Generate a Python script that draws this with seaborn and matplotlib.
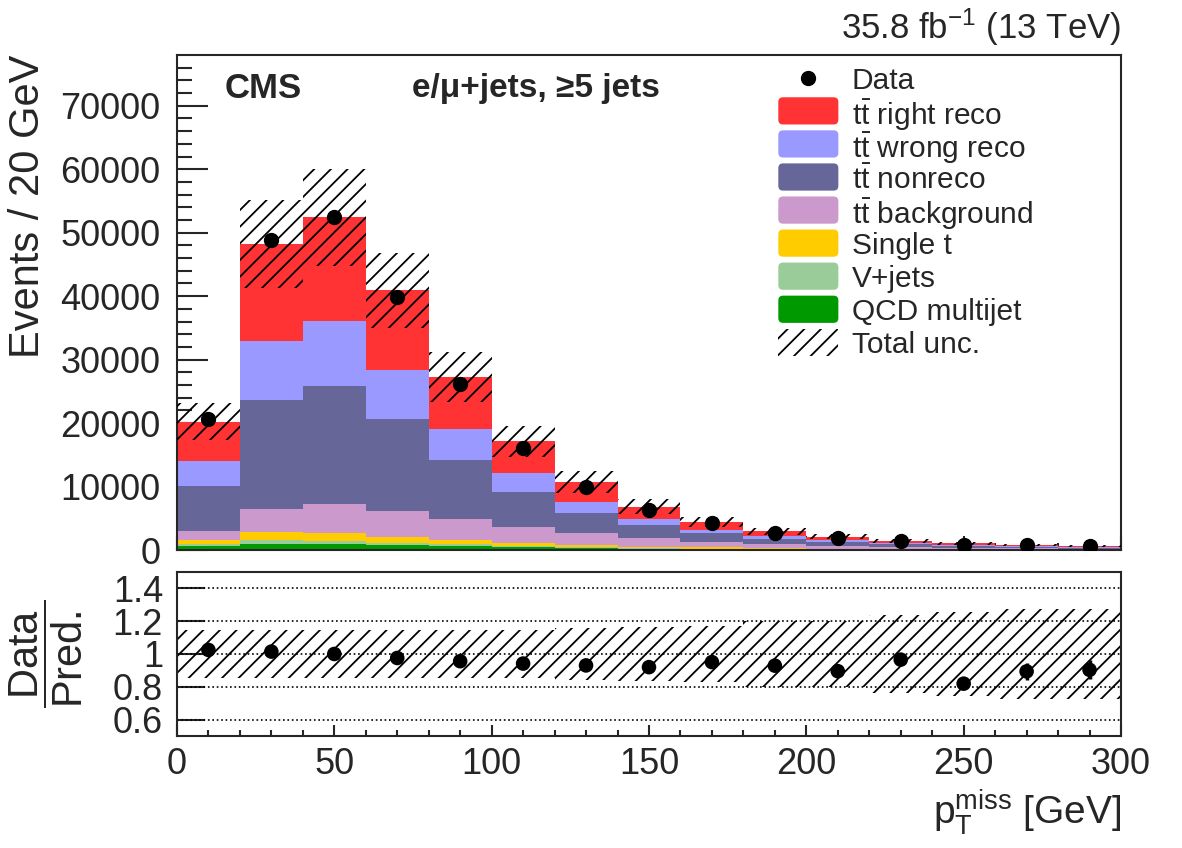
import numpy as np
import pandas as pd
import matplotlib
matplotlib.use("Agg")
import matplotlib.pyplot as plt
from matplotlib.patches import FancyBboxPatch, Rectangle
import seaborn as sns

sns.set_style("ticks")
plt.rcParams['font.family'] = ['Liberation Sans', 'DejaVu Sans']
plt.rcParams['mathtext.fontset'] = 'custom'
plt.rcParams['mathtext.rm'] = 'Liberation Sans'
plt.rcParams['mathtext.it'] = 'Liberation Sans:italic'
plt.rcParams['mathtext.bf'] = 'Liberation Sans:bold'
plt.rcParams['hatch.linewidth'] = 1.3

# binning (20 GeV bins, 0-300 GeV)
edges = np.arange(0, 320, 20)
centers = edges[:-1] + 10

# stacked predictions, per process (events per bin)
tt_right = [6200, 15200, 16300, 12500, 8200, 5000, 3200, 2000, 1250, 800, 550, 380, 280, 210, 170]
tt_wrong = [3900, 9300, 10200, 7700, 4900, 2900, 1700, 900, 500, 350, 250, 170, 120, 90, 70]
tt_nonreco = [7100, 17300, 18700, 14500, 9350, 5500, 3200, 2100, 1400, 900, 650, 450, 320, 250, 190]
tt_bkg = [1500, 3500, 4550, 4150, 3300, 2600, 1850, 1300, 900, 620, 450, 300, 220, 170, 125]
single_t = [500, 1250, 1250, 900, 650, 450, 350, 250, 200, 140, 100, 80, 55, 40, 35]
vjets = [300, 650, 450, 300, 250, 200, 150, 100, 70, 50, 40, 30, 25, 20, 15]
qcd = [700, 1000, 950, 850, 650, 450, 300, 200, 130, 90, 60, 40, 30, 20, 15]

# data and its uncertainty
data = [20700, 48900, 52400, 39900, 26100, 16100, 10000, 6300, 4230, 2740, 1880, 1400, 860, 715, 560]
data_err = [150, 230, 240, 210, 170, 130, 100, 80, 65, 55, 45, 38, 35, 40, 36]

# relative total uncertainty on the prediction
rel_unc = [0.145, 0.145, 0.145, 0.145, 0.145, 0.145, 0.16, 0.165, 0.17, 0.2, 0.2, 0.24, 0.255, 0.275, 0.275]

tt = r"t$\bar{\mathrm{t}}$"
labels = [tt + " right reco", tt + " wrong reco", tt + " nonreco",
          tt + " background", "Single t", "V+jets", "QCD multijet"]
colors = ["#ff3333", "#9999ff", "#666699", "#cc99cc", "#ffcc00", "#99cc99", "#009900"]
series = [tt_right, tt_wrong, tt_nonreco, tt_bkg, single_t, vjets, qcd]

rows = []
for lab, vals in zip(labels, series):
    for c, v in zip(centers, vals):
        rows.append({"met": c, "events": v, "process": lab})
df = pd.DataFrame(rows)

pred = np.sum(np.array(series), axis=0)
data = np.array(data)
data_err = np.array(data_err)
rel_unc = np.array(rel_unc)

fig = plt.figure(figsize=(11.82, 8.48), dpi=100)
ax = fig.add_axes([0.1497, 0.3514, 0.7987, 0.5837])
rax = fig.add_axes([0.1497, 0.1321, 0.7987, 0.1934])

sns.histplot(data=df, x="met", weights="events", hue="process", hue_order=labels,
             multiple="stack", binwidth=20, binrange=(0, 300), element="step", fill=True,
             palette=colors, alpha=1, linewidth=0, legend=False, ax=ax)

# total uncertainty band
lo = pred * (1 - rel_unc)
hi = pred * (1 + rel_unc)
ax.fill_between(edges, np.append(lo, lo[-1]), np.append(hi, hi[-1]), step="post",
                facecolor="none", edgecolor="black", hatch="//", linewidth=0, zorder=3)

ax.errorbar(centers, data, yerr=data_err, fmt="o", color="black", ms=10, elinewidth=2,
            capsize=0, zorder=5)

ax.set_xlim(0, 300)
ax.set_ylim(0, 78000)
ax.set_xlabel("")
ax.set_ylabel("Events / 20 GeV", fontsize=30, loc="top")
ax.yaxis.set_label_coords(-0.137, 1.0)
ax.set_yticks(np.arange(0, 80000, 10000))
ax.set_yticks(np.arange(0, 78000, 2000), minor=True)
ax.set_xticks(np.arange(0, 301, 50))
ax.set_xticks(np.arange(0, 301, 10), minor=True)
ax.set_xticklabels([])
ax.tick_params(axis="y", which="major", direction="in", length=22, width=1.5, labelsize=26, pad=12)
ax.tick_params(axis="y", which="minor", direction="in", length=11, width=1.5)
ax.tick_params(axis="x", which="major", direction="in", length=10, width=1.5)
ax.tick_params(axis="x", which="minor", direction="in", length=5, width=1.5)
for sp in ax.spines.values():
    sp.set_linewidth(1.5)

ax.text(0.051, 0.933, "CMS", transform=ax.transAxes, fontsize=25, fontweight="bold", va="center")
ax.text(0.249, 0.933, "e/μ+jets, ≥5 jets", transform=ax.transAxes, fontsize=24,
        fontweight="bold", va="center")
ax.text(1.0, 1.015, "35.8 fb$^{-1}$ (13 TeV)", transform=ax.transAxes, fontsize=25,
        ha="right", va="bottom")

# legend, drawn row by row so that the rows keep an even pitch
leg_x, leg_w, leg_h = 0.637, 0.0636, 0.055
text_x = 0.715
row0, pitch = 0.954, 0.0668
entries = ["Data"] + labels + ["Total unc."]
for i, lab in enumerate(entries):
    yc = row0 - i * pitch
    if i == 0:
        ax.plot([leg_x + leg_w / 2], [yc], "o", color="black", ms=10, transform=ax.transAxes, clip_on=False)
    elif i <= len(colors):
        ax.add_patch(FancyBboxPatch((leg_x, yc - leg_h / 2), leg_w, leg_h,
                                    boxstyle="round,pad=0,rounding_size=0.005", mutation_aspect=1.9,
                                    facecolor=colors[i - 1], edgecolor="none", transform=ax.transAxes, zorder=6))
    else:
        ax.add_patch(Rectangle((leg_x, yc - leg_h / 2), leg_w, leg_h, facecolor="white", edgecolor="black",
                               hatch="//", linewidth=0, transform=ax.transAxes, zorder=6))
    ax.text(text_x, yc, lab, transform=ax.transAxes, fontsize=21.5, va="center_baseline", zorder=7)

# ratio panel
ratio = data / pred
ratio_err = data_err / pred
rax.fill_between(edges, np.append(1 - rel_unc, 1 - rel_unc[-1]), np.append(1 + rel_unc, 1 + rel_unc[-1]),
                 step="post", facecolor="none", edgecolor="black", hatch="//", linewidth=0)
for yl in [0.6, 0.8, 1.0, 1.2, 1.4]:
    rax.axhline(yl, color="black", ls=":", lw=1.2)
sns.scatterplot(x=centers, y=ratio, color="black", s=110, ax=rax, zorder=5, edgecolor="none")
rax.errorbar(centers, ratio, yerr=ratio_err, fmt="none", ecolor="black", elinewidth=2.5, zorder=5)

rax.set_xlim(0, 300)
rax.set_ylim(0.5, 1.5)
rax.set_yticks([0.6, 0.8, 1.0, 1.2, 1.4])
rax.set_yticklabels(["0.6", "0.8", "1", "1.2", "1.4"])
rax.set_xticks(np.arange(0, 301, 50))
rax.set_xticks(np.arange(0, 301, 10), minor=True)
rax.tick_params(axis="y", which="major", direction="in", length=20, width=1.5, labelsize=26, pad=10)
rax.tick_params(axis="x", which="major", direction="in", length=8, width=1.5, labelsize=26, pad=8)
rax.tick_params(axis="x", which="minor", direction="in", length=4, width=1.5)
for sp in rax.spines.values():
    sp.set_linewidth(1.5)
rax.set_ylabel(r"$\dfrac{\mathrm{Data}}{\mathrm{Pred.}}$", fontsize=30)
rax.yaxis.set_label_coords(-0.097, 0.5)
rax.set_xlabel(r"$\mathrm{p}_{\mathrm{T}}^{\mathrm{miss}}$ [GeV]", fontsize=28, loc="right")

fig.savefig("out.png", dpi=100)
